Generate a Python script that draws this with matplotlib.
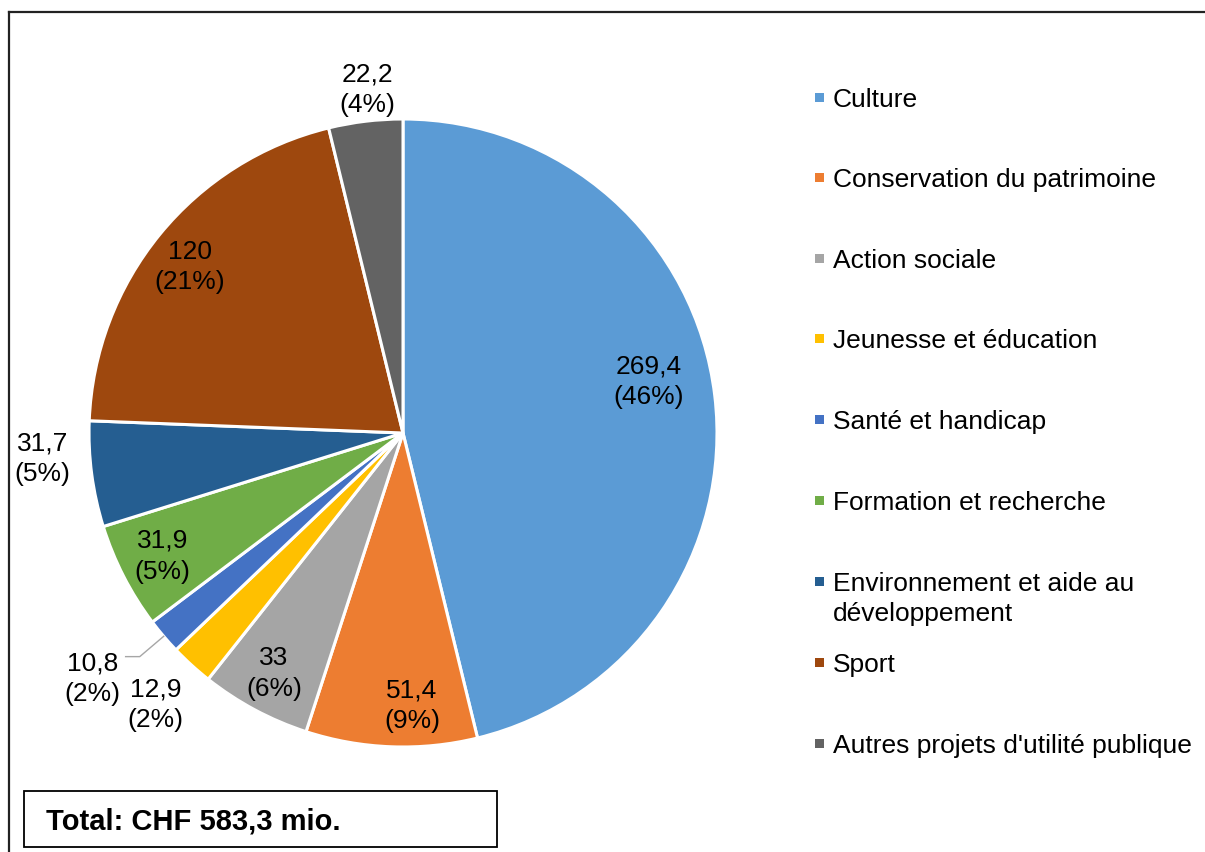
import numpy as np
import matplotlib
matplotlib.use("Agg")
import matplotlib.pyplot as plt
from matplotlib.patches import Rectangle
from matplotlib.lines import Line2D

plt.rcParams['font.family'] = ['Liberation Sans', 'DejaVu Sans']

# data (CHF mio.)
categories = ["Culture", "Conservation du patrimoine", "Action sociale",
              "Jeunesse et éducation", "Santé et handicap", "Formation et recherche",
              "Environnement et aide au\ndéveloppement", "Sport",
              "Autres projets d'utilité publique"]
values = [269.4, 51.4, 33, 12.9, 10.8, 31.9, 31.7, 120, 22.2]
colors = ["#5B9BD5", "#ED7D31", "#A5A5A5", "#FFC000", "#4472C4",
          "#70AD47", "#255E91", "#9E480E", "#636363"]
total_text = "Total: CHF 583,3 mio."

# label placement (radius factor, angle nudge in degrees)
label_r = [0.80, 0.87, 0.87, 1.17, 1.26, 0.86, 1.15, 0.86, 1.10]
label_nudge = [5, 4, 0, 0, -2, 0, -3.5, 1.3, -1]

W, H = 1205, 852
fig = plt.figure(figsize=(W / 100, H / 100), dpi=100)

# pie axes: centre (403, 433) px, radius 314 px
cx, cy, R = 403, 433, 314
ax = fig.add_axes([(cx - R) / W, (H - cy - R) / H, 2 * R / W, 2 * R / H])
wedges, _ = ax.pie(values, colors=colors, startangle=90, counterclock=False,
                   radius=1.0, wedgeprops=dict(edgecolor='white', linewidth=2.2))
ax.set_xlim(-1, 1)
ax.set_ylim(-1, 1)
ax.set_aspect('equal')
ax.axis('off')

total = sum(values)
for i, (w, v) in enumerate(zip(wedges, values)):
    mid = (w.theta1 + w.theta2) / 2
    ang = np.deg2rad(mid + label_nudge[i])
    x, y = label_r[i] * np.cos(ang), label_r[i] * np.sin(ang)
    txt = f"{v:g}".replace('.', ',') + f"\n({round(v / total * 100):.0f}%)"
    ax.text(x, y, txt, ha='center', va='center', fontsize=19, linespacing=1.35)
    if categories[i].startswith("Santé"):
        a = np.deg2rad(mid)
        p0 = np.array([np.cos(a), np.sin(a)]) * 1.0
        p1 = np.array([np.cos(a), np.sin(a)]) * 1.1
        p2 = p1 + np.array([-0.045, 0])
        ax.plot([p0[0], p1[0], p2[0]], [p0[1], p1[1], p2[1]],
                color='#A6A6A6', lw=1.0, clip_on=False)

# legend
leg_y = [98, 178, 259, 339, 420, 501, 582, 663, 744]
for lab, col, yy in zip(categories, colors, leg_y):
    fig.patches.append(Rectangle((815 / W, 1 - (yy + 4) / H), 9 / W, 9 / H,
                                 transform=fig.transFigure, facecolor=col,
                                 edgecolor='none'))
    fig.text(833 / W, 1 - (yy - 10) / H, lab, ha='left', va='top', fontsize=19,
             linespacing=1.3)

# outer frame (top and left)
fig.add_artist(Line2D([9 / W, 1], [1 - 12 / H, 1 - 12 / H], transform=fig.transFigure,
                      color='#222222', lw=1.6))
fig.add_artist(Line2D([9 / W, 9 / W], [0, 1 - 12 / H], transform=fig.transFigure,
                      color='#222222', lw=1.6))

# total box
fig.patches.append(Rectangle((24 / W, 1 - 847 / H), 473 / W, 56 / H,
                             transform=fig.transFigure, facecolor='white',
                             edgecolor='black', lw=1.3))
fig.text(46 / W, 1 - 822 / H, total_text, ha='left', va='center', fontsize=21,
         fontweight='bold')

fig.savefig("out.png", dpi=100)
